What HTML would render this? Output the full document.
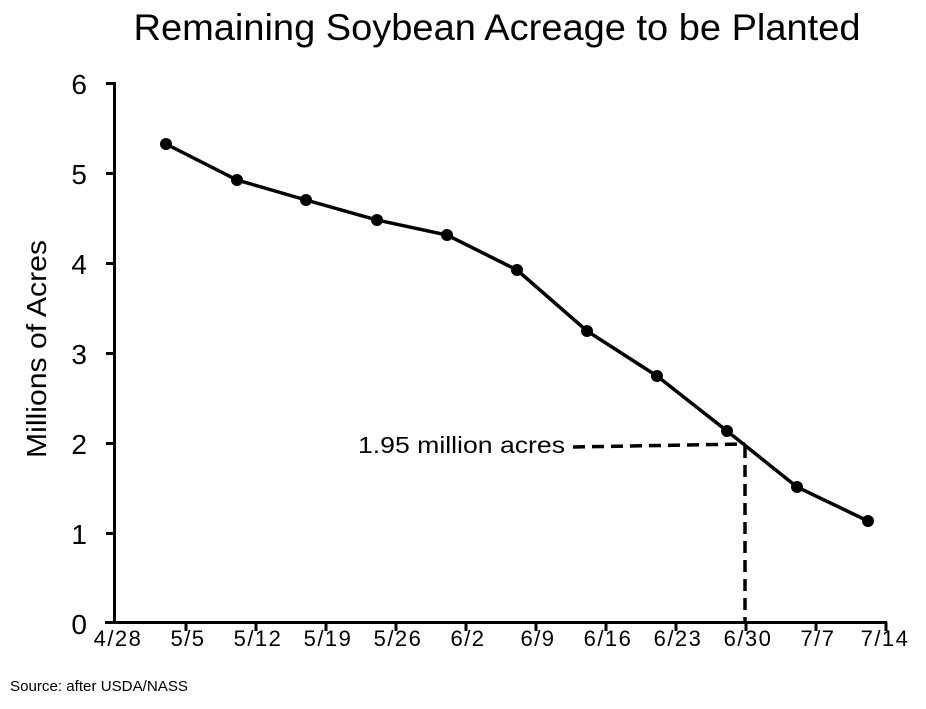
<!DOCTYPE html>
<html><head><style>body{margin:0;background:#fff}</style></head><body>
<svg width="926" height="704" xmlns="http://www.w3.org/2000/svg" style="font-family:'Liberation Sans',sans-serif">
<rect width="926" height="704" fill="#fff"/>
<text x="497" y="40" font-size="37" text-anchor="middle" textLength="727" lengthAdjust="spacingAndGlyphs">Remaining Soybean Acreage to be Planted</text>
<g stroke="#000" stroke-width="3" fill="none">
<line x1="114.5" y1="82" x2="114.5" y2="623"/>
<line x1="105" y1="622.5" x2="887" y2="622.5"/>
<path d="M106 83.5H114M106 173.5H114M106 263.5H114M106 353.5H114M106 443.5H114M106 533.5H114"/>
<path d="M186 622V631M256 622V631M326 622V631M396 622V631M466 622V631M536 622V631M606 622V631M676 622V631M746 622V631M816 622V631M886 622V631"/>
<polyline stroke-width="3.5" points="166,144 237,180 306,200 377,220 447,235 517,270 587,331 657,376 727,431 797,487 868,521"/>
</g>
<g stroke="#000" stroke-width="3.5" stroke-dasharray="12,7" fill="none">
<path d="M573 447L745 444"/>
<path d="M745 446V623"/>
</g>
<g fill="#000">
<circle cx="166" cy="144" r="6"/><circle cx="237" cy="180" r="6"/><circle cx="306" cy="200" r="6"/><circle cx="377" cy="220" r="6"/><circle cx="447" cy="235" r="6"/><circle cx="517" cy="270" r="6"/><circle cx="587" cy="331" r="6"/><circle cx="657" cy="376" r="6"/><circle cx="727" cy="431" r="6"/><circle cx="797" cy="487" r="6"/><circle cx="868" cy="521" r="6"/>
</g>
<g font-size="28" text-anchor="end">
<text x="87" y="94">6</text><text x="87" y="184">5</text><text x="87" y="274">4</text><text x="87" y="364">3</text><text x="87" y="454">2</text><text x="87" y="544">1</text><text x="87" y="634">0</text>
</g>
<g font-size="22" text-anchor="middle" letter-spacing="1.5">
<text x="118" y="646">4/28</text><text x="188" y="646">5/5</text><text x="258" y="646">5/12</text><text x="328" y="646">5/19</text><text x="398" y="646">5/26</text><text x="468" y="646">6/2</text><text x="538" y="646">6/9</text><text x="608" y="646">6/16</text><text x="678" y="646">6/23</text><text x="748" y="646">6/30</text><text x="818" y="646">7/7</text><text x="885" y="646">7/14</text>
</g>
<text x="46" y="349" font-size="28" text-anchor="middle" transform="rotate(-90 46 349)" textLength="218" lengthAdjust="spacingAndGlyphs">Millions of Acres</text>
<text x="358" y="453" font-size="23" textLength="207" lengthAdjust="spacingAndGlyphs">1.95 million acres</text>
<text x="10" y="691" font-size="15" textLength="178" lengthAdjust="spacingAndGlyphs">Source: after USDA/NASS</text>
</svg>
</body></html>
